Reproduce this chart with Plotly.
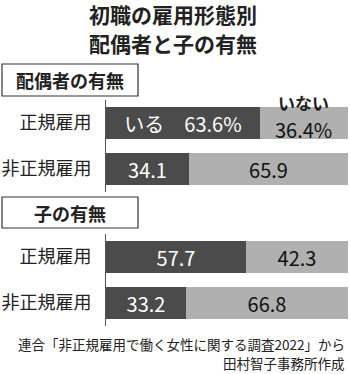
import plotly.graph_objects as go

W, H = 350, 374
FONT = "Noto Sans CJK JP"

# Data
rows = ["正規雇用", "非正規雇用"]
spouse_yes = [63.6, 34.1]
spouse_no = [36.4, 65.9]
child_yes = [57.7, 33.2]
child_no = [42.3, 66.8]
group_titles = ["配偶者の有無", "子の有無"]
title_lines = ["初職の雇用形態別", "配偶者と子の有無"]
source_lines = ["連合「非正規雇用で働く女性に関する調査2022」から", "田村智子事務所作成"]

DARK = "#4b4b4b"
LIGHT = "#b0b0b0"
BAR_FS = 20

def py(p):
    return 1 - p / H

fig = go.Figure()

def fmt(v):
    return f"{v:.1f}"

# group 1
dark_text_1 = [f"いる　{spouse_yes[0]:.1f}%"] + [fmt(v) for v in spouse_yes[1:]]
light_text_1 = [""] + [fmt(v) for v in spouse_no[1:]]
fig.add_trace(go.Bar(y=rows, x=spouse_yes, orientation="h", marker_color=DARK,
                     text=dark_text_1, textposition="inside", insidetextanchor="middle",
                     textfont=dict(color="white", size=BAR_FS, family=FONT),
                     xaxis="x", yaxis="y", width=0.71, marker_line_width=0))
fig.add_trace(go.Bar(y=rows, x=spouse_no, orientation="h", marker_color=LIGHT,
                     text=light_text_1, textposition="inside", insidetextanchor="middle",
                     textfont=dict(color="#111", size=BAR_FS, family=FONT),
                     xaxis="x", yaxis="y", width=0.71, marker_line_width=0))
# group 2
fig.add_trace(go.Bar(y=rows, x=child_yes, orientation="h", marker_color=DARK,
                     text=[fmt(v) for v in child_yes], textposition="inside", insidetextanchor="middle",
                     textfont=dict(color="white", size=BAR_FS, family=FONT),
                     xaxis="x2", yaxis="y2", width=0.68, marker_line_width=0))
fig.add_trace(go.Bar(y=rows, x=child_no, orientation="h", marker_color=LIGHT,
                     text=[fmt(v) for v in child_no], textposition="inside", insidetextanchor="middle",
                     textfont=dict(color="#111", size=BAR_FS, family=FONT),
                     xaxis="x2", yaxis="y2", width=0.68, marker_line_width=0))

xdom = [106 / W, 348 / W]
common_x = dict(range=[0, 100], domain=xdom, showgrid=False, zeroline=False,
                showticklabels=False, showline=False, fixedrange=True)
common_y = dict(type="category", categoryorder="array", categoryarray=rows,
                autorange="reversed", showgrid=False, zeroline=False,
                showline=True, linecolor="#555", linewidth=1, ticks="",
                ticklabelstandoff=10,
                tickfont=dict(size=18, color="#222", family=FONT))

fig.update_layout(
    width=W, height=H, margin=dict(l=0, r=0, t=0, b=0),
    paper_bgcolor="white", plot_bgcolor="rgba(0,0,0,0)",
    barmode="stack", showlegend=False, bargap=0,
    font=dict(family=FONT, color="#222"),
    xaxis=dict(**common_x, anchor="y"),
    yaxis=dict(**common_y, domain=[py(192), py(100)], anchor="x"),
    xaxis2=dict(**common_x, anchor="y2"),
    yaxis2=dict(**common_y, domain=[py(326), py(234)], anchor="x2"),
    uniformtext=dict(minsize=BAR_FS, mode="show"),
)

ann = []
# title
for i, t in enumerate(title_lines):
    ann.append(dict(text=f"<b>{t}</b>", x=173 / W, y=py(14 + 29 * i), xref="paper", yref="paper",
                    xanchor="center", yanchor="middle", showarrow=False,
                    font=dict(size=21, color="#222", family=FONT)))
# group boxes
box_y = [(64, 96), (197, 228)]
shapes = []
for t, (y0, y1) in zip(group_titles, box_y):
    shapes.append(dict(type="rect", xref="paper", yref="paper", x0=2 / W, x1=138 / W,
                       y0=py(y1), y1=py(y0), line=dict(color="#333", width=1.2), fillcolor="white"))
    ann.append(dict(text=f"<b>{t}</b>", x=70 / W, y=py((y0 + y1) / 2), xref="paper", yref="paper",
                    xanchor="center", yanchor="middle", showarrow=False,
                    font=dict(size=18, color="#222", family=FONT)))
# いない / 36.4% labels for first row
xm = spouse_yes[0] + spouse_no[0] / 2
ann.append(dict(text="<b>いない</b>", x=xm, y=rows[0], xref="x", yref="y", yshift=20,
                showarrow=False, font=dict(size=17, color="#222", family=FONT)))
ann.append(dict(text=f"{spouse_no[0]:.1f}%", x=xm, y=rows[0], xref="x", yref="y", yshift=-6,
                showarrow=False, font=dict(size=BAR_FS, color="#111", family=FONT)))
# source
for i, t in enumerate(source_lines):
    ann.append(dict(text=t, x=347 / W, y=py(344 + 19 * i), xref="paper", yref="paper",
                    xanchor="right", yanchor="middle", showarrow=False,
                    font=dict(size=13.5, color="#222", family=FONT)))

fig.update_layout(annotations=ann, shapes=shapes)
fig.write_html("out.html")
